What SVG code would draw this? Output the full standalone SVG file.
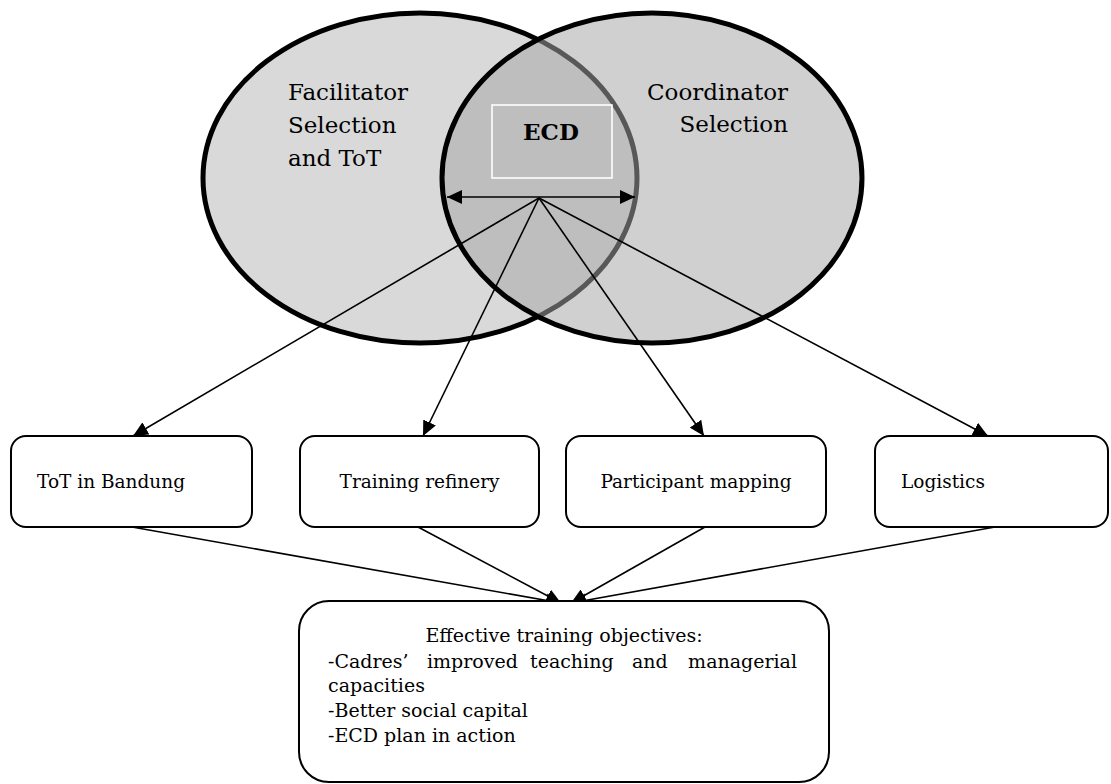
<svg xmlns="http://www.w3.org/2000/svg" width="1111" height="784" viewBox="0 0 1111 784">
<defs>
<style>
.lbl{font-family:"DejaVu Serif","Liberation Serif",serif;font-size:23px;fill:#000}
.box{fill:#fff;stroke:#000;stroke-width:2}
.btxt{font-family:"DejaVu Serif","Liberation Serif",serif;font-size:18.5px;fill:#000}
.otxt{font-family:"DejaVu Serif","Liberation Serif",serif;font-size:19px;fill:#000}
.con{stroke:#000;stroke-width:1.6;fill:none}
</style>
<marker id="ah" markerUnits="userSpaceOnUse" markerWidth="16" markerHeight="14" refX="15" refY="7" orient="auto">
<path d="M0,0 L15,7 L0,14 Z" fill="#000"/>
</marker>
<marker id="ahs" markerUnits="userSpaceOnUse" markerWidth="16" markerHeight="14" refX="1" refY="7" orient="auto">
<path d="M16,0 L1,7 L16,14 Z" fill="#000"/>
</marker>
</defs>
<rect width="1111" height="784" fill="#fff"/>
<g id="facilitator">
<ellipse cx="420" cy="178" rx="217" ry="165" fill="#d9d9d9" stroke="#000" stroke-width="5"/>
<text class="lbl" x="288" y="100">Facilitator</text>
<text class="lbl" x="288" y="133">Selection</text>
<text class="lbl" x="288" y="166">and ToT</text>
</g>
<g id="coordinator">
<ellipse cx="652" cy="178" rx="210" ry="165" fill="#a6a6a6" fill-opacity="0.53" stroke="#000" stroke-width="5"/>
<text class="lbl" x="788" y="100" text-anchor="end">Coordinator</text>
<text class="lbl" x="788" y="132" text-anchor="end">Selection</text>
</g>
<g id="ecd">
<rect x="492" y="105" width="120" height="73" fill="none" stroke="#fff" stroke-width="1.6"/>
<text class="lbl" x="551" y="140" text-anchor="middle" font-weight="bold">ECD</text>
</g>
<g id="connectors">
<line class="con" x1="447" y1="197" x2="635" y2="197" marker-start="url(#ahs)" marker-end="url(#ah)"/>
<line class="con" x1="539" y1="198" x2="133" y2="436" marker-end="url(#ah)"/>
<line class="con" x1="539" y1="198" x2="423" y2="436" marker-end="url(#ah)"/>
<line class="con" x1="539" y1="198" x2="704" y2="436" marker-end="url(#ah)"/>
<line class="con" x1="539" y1="198" x2="988" y2="436" marker-end="url(#ah)"/>
<line class="con" x1="132" y1="527" x2="561" y2="603" marker-end="url(#ah)"/>
<line class="con" x1="418" y1="527" x2="561" y2="603" marker-end="url(#ah)"/>
<line class="con" x1="705" y1="527" x2="571" y2="603" marker-end="url(#ah)"/>
<line class="con" x1="995" y1="527" x2="571" y2="603" marker-end="url(#ah)"/>
</g>
<g id="tot-bandung">
<rect class="box" x="11" y="436" width="241" height="91" rx="15"/>
<text class="btxt" x="37" y="488">ToT in Bandung</text>
</g>
<g id="training-refinery">
<rect class="box" x="300" y="436" width="239" height="91" rx="15"/>
<text class="btxt" x="419.5" y="488" text-anchor="middle">Training refinery</text>
</g>
<g id="participant-mapping">
<rect class="box" x="566" y="436" width="260" height="91" rx="15"/>
<text class="btxt" x="696" y="488" text-anchor="middle">Participant mapping</text>
</g>
<g id="logistics">
<rect class="box" x="875" y="436" width="233" height="91" rx="15"/>
<text class="btxt" x="901" y="488">Logistics</text>
</g>
<g id="objectives">
<rect class="box" x="299" y="601" width="530" height="181" rx="30"/>
<text class="otxt" x="564" y="642" text-anchor="middle">Effective training objectives:</text>
<text class="otxt" y="668"><tspan x="328">-Cadres’</tspan><tspan x="427">improved</tspan><tspan x="530">teaching</tspan><tspan x="632">and</tspan><tspan x="797" text-anchor="end">managerial</tspan></text>
<text class="otxt" x="328" y="692">capacities</text>
<text class="otxt" x="328" y="717">-Better social capital</text>
<text class="otxt" x="328" y="742">-ECD plan in action</text>
</g>
</svg>
